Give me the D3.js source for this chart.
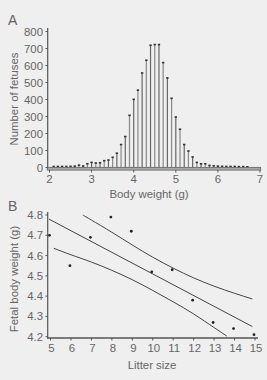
<!DOCTYPE html>
<html><head><meta charset="utf-8">
<script src="https://cdn.jsdelivr.net/npm/d3@7/dist/d3.min.js"></script>
<style>
html,body{margin:0;padding:0;background:#efefef;}
svg{display:block;}
text{font-family:"Liberation Sans",Arial,sans-serif;fill:#666;}
</style></head>
<body>
<svg id="c" width="267" height="380"></svg>
<script>
// ---- Panel A data ----
const weightBins = [2.1,2.2,2.3,2.4,2.5,2.6,2.7,2.8,2.9,3.0,3.1,3.2,3.3,3.4,3.5,3.6,3.7,3.8,3.9,4.0,
  4.1,4.2,4.3,4.4,4.5,4.6,4.7,4.8,4.9,5.0,5.1,5.2,5.3,5.4,5.5,5.6,5.7,5.8,5.9,6.0,6.1,6.2,6.3,6.4,6.5,6.6,6.7];
const fetusCounts = [6,6,6,6,7,8,14,9,22,30,26,28,40,44,60,84,135,182,307,401,
  455,556,631,719,723,723,617,527,407,297,225,135,97,62,30,22,22,12,10,8,7,6,6,6,5,5,4];
const aXTicks = [2,3,4,5,6,7];
const aYTicks = [0,100,200,300,400,500,600,700,800];

// ---- Panel B data ----
const litterSize = [5,6,7,8,9,10,11,12,13,14,15];
const fetalWeight = [4.70,4.55,4.69,4.79,4.72,4.52,4.53,4.38,4.27,4.24,4.21];
const fitX = [4.92,14.87];
const fitY = [4.78,4.25];
const upperX = [6.58,7,8,9,10,11,12,13,14,14.87];
const upperY = [4.80,4.775,4.715,4.652,4.592,4.538,4.49,4.449,4.414,4.386];
const lowerX = [5.16,6,7,8,9,10,11,12,13,13.62];
const lowerY = [4.636,4.604,4.568,4.527,4.481,4.428,4.372,4.312,4.245,4.203];
const bXTicks = [5,6,7,8,9,10,11,12,13,14,15];
const bYTicks = [4.2,4.3,4.4,4.5,4.6,4.7,4.8];

const svg = d3.select("#c");
const axisCol = "#555";
const fs = 11.4;

// ================= Panel A =================
const xA = d3.scaleLinear().domain([2,7]).range([49.5,260]);
const yA = d3.scaleLinear().domain([0,800]).range([167.5,31.5]);
const gA = svg.append("g");

gA.append("text").attr("x",8).attr("y",25).attr("font-size",14).text("A");

// y axis
gA.append("line").attr("x1",47.7).attr("x2",47.7).attr("y1",28).attr("y2",169)
  .attr("stroke",axisCol).attr("stroke-width",1.2);
aYTicks.forEach(v=>{
  gA.append("line").attr("x1",45.5).attr("x2",47.7).attr("y1",yA(v)).attr("y2",yA(v))
    .attr("stroke",axisCol).attr("stroke-width",1);
  gA.append("text").attr("x",43).attr("y",yA(v)+4).attr("text-anchor","end")
    .attr("font-size",fs).text(v);
});
gA.append("text").attr("transform","translate(17.5,99) rotate(-90)")
  .attr("text-anchor","middle").attr("font-size",fs).text("Number of fetuses");

// bars
weightBins.forEach((w,i)=>{
  const x = xA(w), y = yA(fetusCounts[i]);
  gA.append("line").attr("x1",x).attr("x2",x).attr("y1",167.5).attr("y2",y)
    .attr("stroke", i%2 ? "#666" : "#888").attr("stroke-width",1.2);
  gA.append("rect").attr("x",x-1.2).attr("y",y-0.8).attr("width",2.4).attr("height",1.6)
    .attr("fill","#333");
});

// x axis band
gA.append("rect").attr("x",47.2).attr("y",167.3).attr("width",213.5).attr("height",2.8)
  .attr("fill","#aaa").attr("stroke",axisCol).attr("stroke-width",0.7);
aXTicks.forEach(v=>{
  gA.append("line").attr("x1",xA(v)).attr("x2",xA(v)).attr("y1",170).attr("y2",172.5)
    .attr("stroke",axisCol).attr("stroke-width",1);
  gA.append("text").attr("x",xA(v)).attr("y",182.5).attr("text-anchor","middle")
    .attr("font-size",fs).text(v);
});
gA.append("text").attr("x",149).attr("y",198).attr("text-anchor","middle")
  .attr("font-size",fs).text("Body weight (g)");

// ================= Panel B =================
const xB = d3.scaleLinear().domain([5,15]).range([50.5,255]);
const yB = d3.scaleLinear().domain([4.2,4.8]).range([336.7,215]);
const gB = svg.append("g");

gB.append("text").attr("x",8).attr("y",210.5).attr("font-size",14).text("B");

gB.append("line").attr("x1",47.7).attr("x2",47.7).attr("y1",212).attr("y2",338.5)
  .attr("stroke",axisCol).attr("stroke-width",1.2);
bYTicks.forEach(v=>{
  gB.append("line").attr("x1",45.5).attr("x2",47.7).attr("y1",yB(v)).attr("y2",yB(v))
    .attr("stroke",axisCol).attr("stroke-width",1);
  gB.append("text").attr("x",43).attr("y",yB(v)+4).attr("text-anchor","end")
    .attr("font-size",fs).text(v.toFixed(1));
});
gB.append("text").attr("transform","translate(17.5,279) rotate(-90)")
  .attr("text-anchor","middle").attr("font-size",fs).text("Fetal body weight (g)");

gB.append("line").attr("x1",47.2).attr("x2",258).attr("y1",338).attr("y2",338)
  .attr("stroke",axisCol).attr("stroke-width",1.4);
bXTicks.forEach(v=>{
  gB.append("line").attr("x1",xB(v)).attr("x2",xB(v)).attr("y1",338).attr("y2",340.5)
    .attr("stroke",axisCol).attr("stroke-width",1);
  gB.append("text").attr("x",xB(v)+1).attr("y",352).attr("text-anchor","middle")
    .attr("font-size",fs).text(v);
});
gB.append("text").attr("x",152).attr("y",369).attr("text-anchor","middle")
  .attr("font-size",fs).text("Litter size");

const line = d3.line().x(d=>xB(d[0])).y(d=>yB(d[1])).curve(d3.curveNatural);
const lineCol = "#444";
gB.append("path").attr("d",line(d3.zip(fitX,fitY))).attr("fill","none")
  .attr("stroke",lineCol).attr("stroke-width",1);
gB.append("path").attr("d",line(d3.zip(upperX,upperY))).attr("fill","none")
  .attr("stroke",lineCol).attr("stroke-width",1);
gB.append("path").attr("d",line(d3.zip(lowerX,lowerY))).attr("fill","none")
  .attr("stroke",lineCol).attr("stroke-width",1);

litterSize.forEach((l,i)=>{
  gB.append("circle").attr("cx",xB(l)-1).attr("cy",yB(fetalWeight[i])).attr("r",1.4)
    .attr("fill","#222");
});
</script>
</body></html>
